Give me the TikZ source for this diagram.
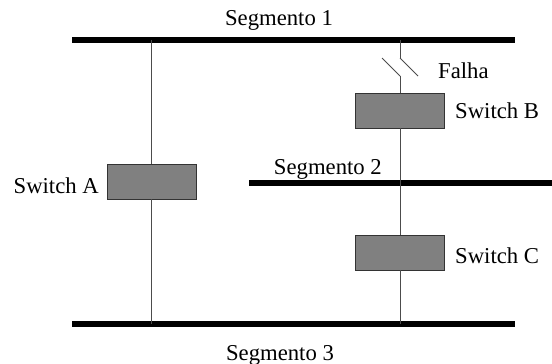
\documentclass[tikz,border=0pt]{standalone}
\usepackage{fontspec}
\setmainfont{Liberation Serif}
\begin{document}
\begin{tikzpicture}[x=1pt,y=-1pt,
  bus/.style={line width=6pt},
  wire/.style={draw=black!70,line width=1pt},
  swbox/.style={draw=black!80,fill=black!50,line width=0.8pt,minimum width=89pt,minimum height=35pt,inner sep=0pt},
  lbl/.style={inner sep=0pt,font=\fontsize{22.7}{26}\selectfont}]
\useasboundingbox (0,0) rectangle (552,364);
% buses
\coordinate (b1w) at (72,40); \coordinate (b1e) at (515,40);
\coordinate (b2w) at (249,182.5); \coordinate (b2e) at (552,182.5);
\coordinate (b3w) at (72,323.5); \coordinate (b3e) at (515,323.5);
\draw[bus] (b1w) -- (b1e);
\draw[bus] (b2w) -- (b2e);
\draw[bus] (b3w) -- (b3e);
% switches
\node[swbox] (A) at (151.5,181.5) {};
\node[swbox] (B) at (400,110.5) {};
\node[swbox] (C) at (400,252.5) {};
% left line
\coordinate (a1) at (151.5,40); \coordinate (a3) at (151.5,323.5);
\draw[wire] (a1) -- (A.north);
\draw[wire] (A.south) -- (a3);
% right line with fault
\coordinate (r1) at (400,40); \coordinate (f1) at (400,58); \coordinate (f2) at (418,76);
\coordinate (f3) at (382,58); \coordinate (f4) at (400,76); \coordinate (r3) at (400,323.5);
\draw[wire] (r1) -- (f1);
\draw[wire] (f1) -- (f2);
\draw[wire] (f3) -- (f4);
\draw[wire] (f4) -- (B.north);
\draw[wire] (B.south) -- (C.north);
\draw[wire] (C.south) -- (r3);
% labels
\node[lbl,anchor=base] (s1) at (279,25) {Segmento 1};
\node[lbl,anchor=base east] (s2) at (382,174) {Segmento 2};
\node[lbl,anchor=base] (s3) at (280,360) {Segmento 3};
\node[lbl,anchor=base west] (fl) at (438,78) {Falha};
\node[lbl,anchor=base east] (la) at (99,193) {Switch A};
\node[lbl,anchor=base west] (lb) at (455,118) {Switch B};
\node[lbl,anchor=base west] (lc) at (455,263) {Switch C};
\end{tikzpicture}
\end{document}
